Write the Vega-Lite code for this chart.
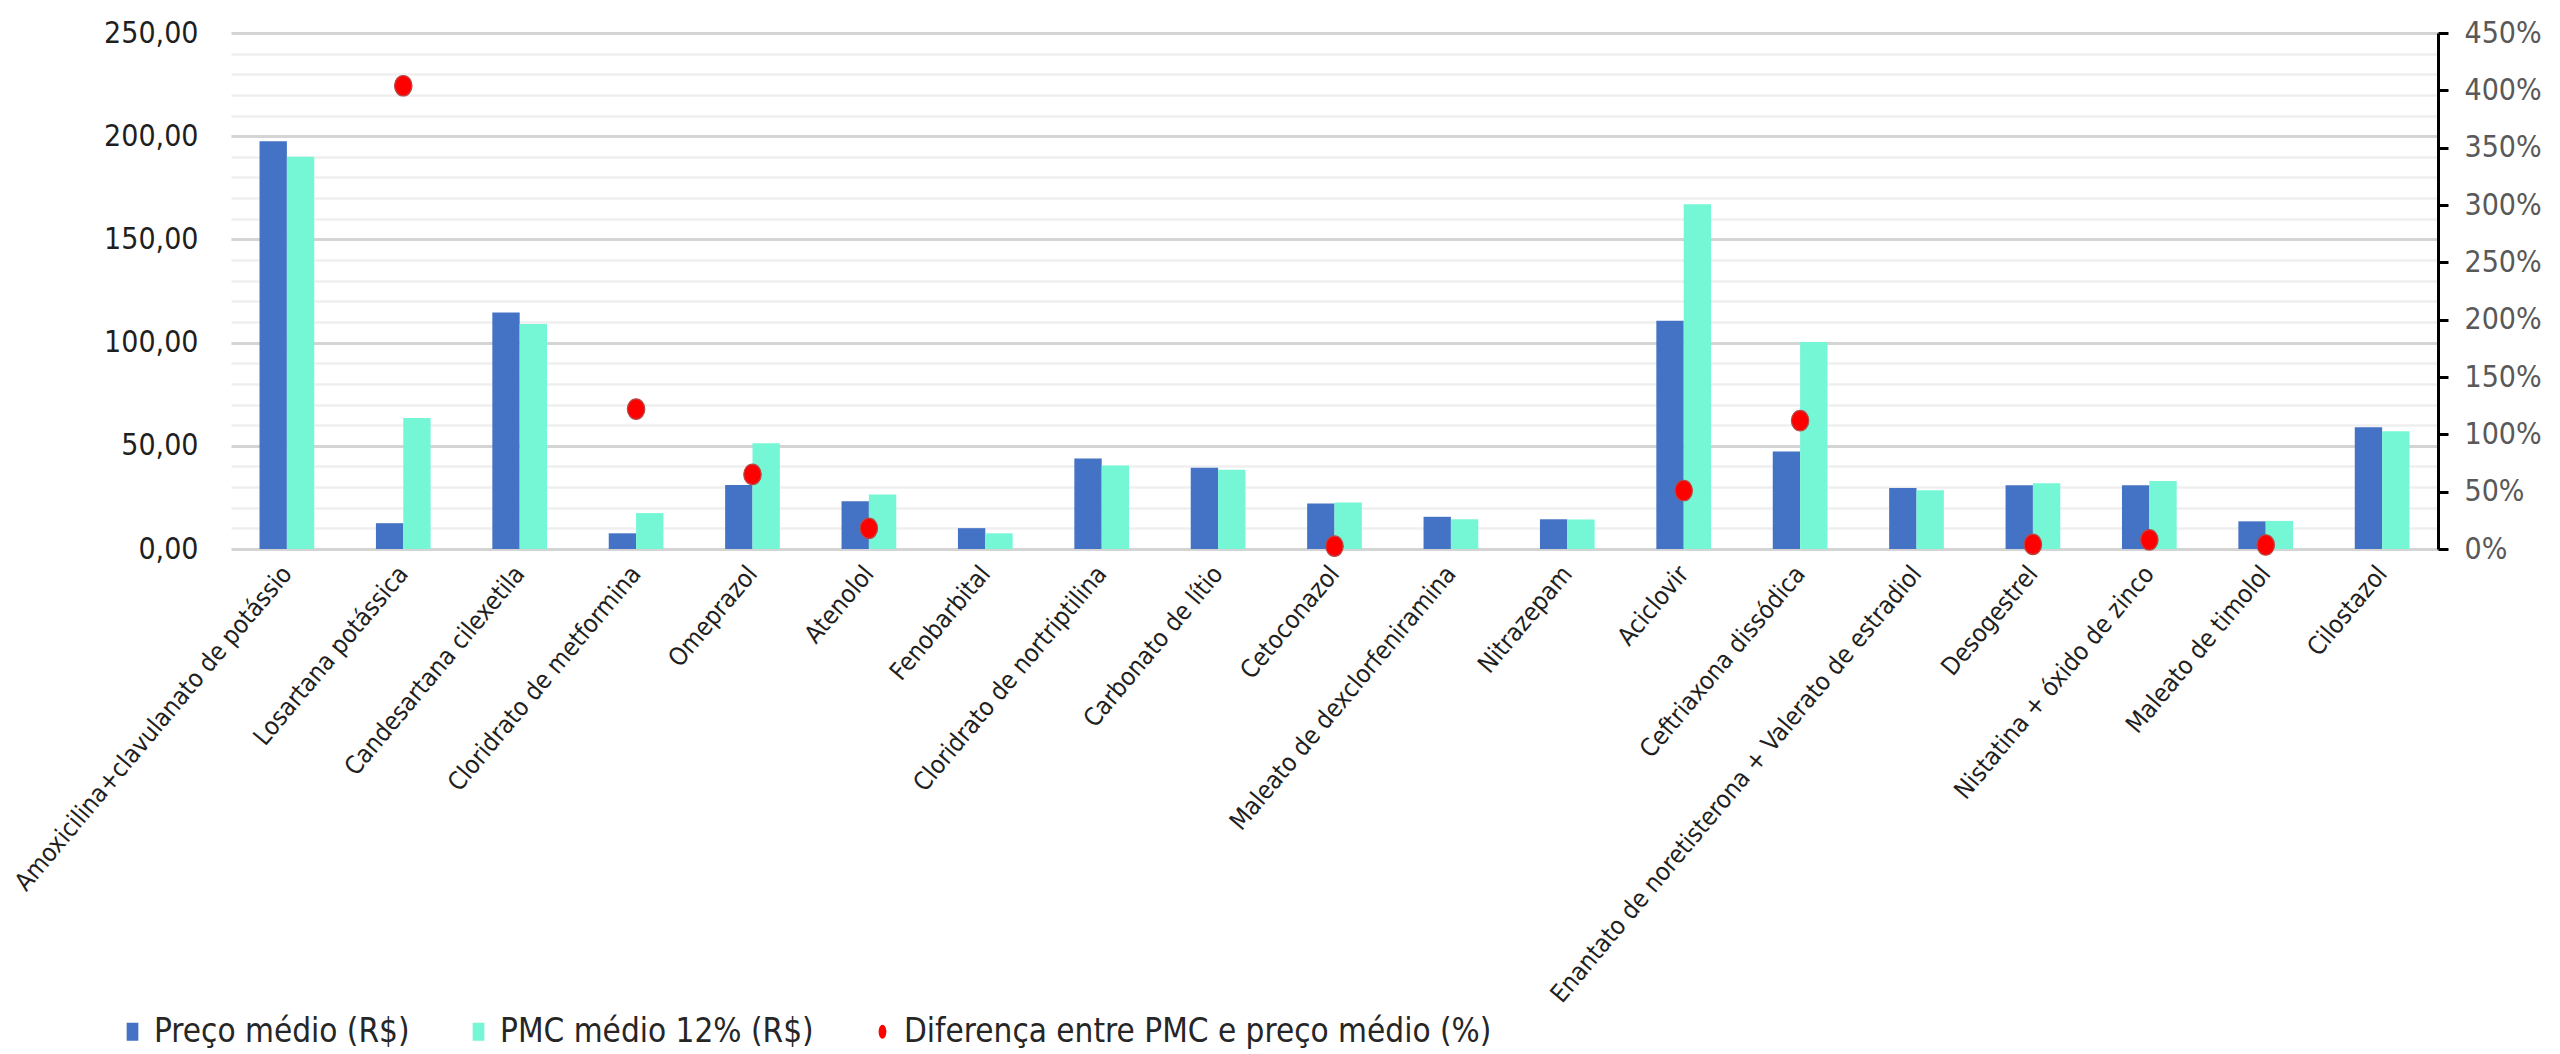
{
  "$schema": "https://vega.github.io/schema/vega-lite/v6.json",
  "width": 2207,
  "height": 516,
  "autosize": {"type": "none"},
  "padding": {"left": 231, "top": 33, "right": 122, "bottom": 505},
  "background": "white",
  "config": {"view": {"stroke": null}, "font": "DejaVu Sans Condensed"},
  "data": {
    "values": [
      {"med": "Amoxicilina+clavulanato de potássio", "preco": 197.5, "pmc": 190.0, "dif": null},
      {"med": "Losartana potássica", "preco": 12.5, "pmc": 63.5, "dif": 404},
      {"med": "Candesartana cilexetila", "preco": 114.6, "pmc": 109.0, "dif": null},
      {"med": "Cloridrato de metformina", "preco": 7.6, "pmc": 17.4, "dif": 122},
      {"med": "Omeprazol", "preco": 31.0, "pmc": 51.2, "dif": 65},
      {"med": "Atenolol", "preco": 23.1, "pmc": 26.4, "dif": 18},
      {"med": "Fenobarbital", "preco": 10.1, "pmc": 7.6, "dif": null},
      {"med": "Cloridrato de nortriptilina", "preco": 43.8, "pmc": 40.5, "dif": null},
      {"med": "Carbonato de lítio", "preco": 39.4, "pmc": 38.4, "dif": null},
      {"med": "Cetoconazol", "preco": 22.0, "pmc": 22.5, "dif": 2.5},
      {"med": "Maleato de dexclorfeniramina", "preco": 15.6, "pmc": 14.4, "dif": null},
      {"med": "Nitrazepam", "preco": 14.4, "pmc": 14.3, "dif": null},
      {"med": "Aciclovir", "preco": 110.6, "pmc": 167.0, "dif": 51},
      {"med": "Ceftriaxona dissódica", "preco": 47.2, "pmc": 100.3, "dif": 112},
      {"med": "Enantato de noretisterona + Valerato de estradiol", "preco": 29.5, "pmc": 28.5, "dif": null},
      {"med": "Desogestrel", "preco": 30.9, "pmc": 31.8, "dif": 4},
      {"med": "Nistatina + óxido de zinco", "preco": 30.9, "pmc": 33.0, "dif": 8},
      {"med": "Maleato de timolol", "preco": 13.4, "pmc": 13.6, "dif": 3.5},
      {"med": "Cilostazol", "preco": 59.0, "pmc": 57.0, "dif": null}
    ]
  },
  "encoding": {
    "x": {
      "field": "med",
      "type": "nominal",
      "sort": null,
      "scale": {"paddingInner": 0.53, "paddingOuter": 0.245},
      "axis": {
        "title": null,
        "domain": false,
        "ticks": false,
        "labelAngle": -50,
        "labelFontSize": 25,
        "labelFont": "DejaVu Sans Condensed",
        "labelColor": "#1f1f1f",
        "labelPadding": 20,
        "labelLimit": 1000
      }
    }
  },
  "layer": [
    {
      "transform": [{"fold": ["preco", "pmc"], "as": ["serie", "valor"]}],
      "mark": {"type": "bar"},
      "encoding": {
        "xOffset": {"field": "serie", "type": "nominal", "sort": ["preco", "pmc"], "scale": {"paddingInner": 0, "paddingOuter": 0}},
        "y": {
          "field": "valor",
          "type": "quantitative",
          "scale": {"domain": [0, 250], "nice": false},
          "axis": {
            "title": null,
            "domain": false,
            "ticks": false,
            "values": [0, 10, 20, 30, 40, 50, 60, 70, 80, 90, 100, 110, 120, 130, 140, 150, 160, 170, 180, 190, 200, 210, 220, 230, 240, 250],
            "labelExpr": "datum.value % 50 === 0 ? replace(format(datum.value, '.2f'), '.', ',') : ''",
            "labelOverlap": false,
            "labelFontSize": 30,
            "labelFont": "DejaVu Sans Condensed",
            "labelColor": "#1f1f1f",
            "labelPadding": 33,
            "grid": true,
            "gridColor": {"condition": {"test": "datum.value % 50 === 0", "value": "#d4d4d4"}, "value": "#efefef"},
            "gridWidth": {"condition": {"test": "datum.value % 50 === 0", "value": 3}, "value": 2.5}
          }
        },
        "color": {
          "field": "serie",
          "type": "nominal",
          "scale": {"domain": ["preco", "pmc", "dif"], "range": ["#4472C4", "#75F7D6", "#FF0000"]},
          "legend": {
            "title": null,
            "orient": "none",
            "legendX": -115,
            "legendY": 982,
            "direction": "horizontal",
            "columnPadding": 52,
            "labelFontSize": 33,
            "labelFont": "DejaVu Sans Condensed",
            "labelColor": "#262626",
            "labelOffset": 5,
            "labelLimit": 0,
            "symbolSize": 324,
            "labelExpr": "datum.label === 'preco' ? 'Preço médio (R$)' : datum.label === 'pmc' ? 'PMC médio 12% (R$)' : 'Diferença entre PMC e preço médio (%)'",
            "encode": {
              "symbols": {
                "update": {
                  "shape": {"signal": "datum.value === 'dif' ? 'M0,-1A0.55,1,0,1,1,0,1A0.55,1,0,1,1,0,-1Z' : 'M-0.65,-1H0.65V1H-0.65Z'"},
                  "size": {"signal": "datum.value === 'dif' ? 196 : 324"},
                  "strokeWidth": {"value": 0}
                }
              }
            }
          }
        }
      }
    },
    {
      "transform": [{"filter": "datum.dif != null"}],
      "mark": {
        "type": "point",
        "filled": true,
        "shape": "M0,-1A0.85,1,0,1,1,0,1A0.85,1,0,1,1,0,-1Z",
        "size": 420,
        "opacity": 1,
        "stroke": "#b84a4a",
        "strokeWidth": 1.2,
        "clip": false
      },
      "encoding": {
        "y": {
          "field": "dif",
          "type": "quantitative",
          "scale": {"domain": [0, 450], "nice": false},
          "axis": {
            "orient": "right",
            "title": null,
            "grid": false,
            "values": [0, 50, 100, 150, 200, 250, 300, 350, 400, 450],
            "labelExpr": "datum.value + '%'",
            "labelFontSize": 30,
            "labelFont": "DejaVu Sans Condensed",
            "labelColor": "#595959",
            "labelPadding": 16,
            "domainColor": "#000000",
            "domainWidth": 3,
            "tickColor": "#000000",
            "tickWidth": 3,
            "tickSize": 10
          }
        },
        "color": {"datum": "dif"}
      }
    }
  ],
  "resolve": {"scale": {"y": "independent"}}
}
